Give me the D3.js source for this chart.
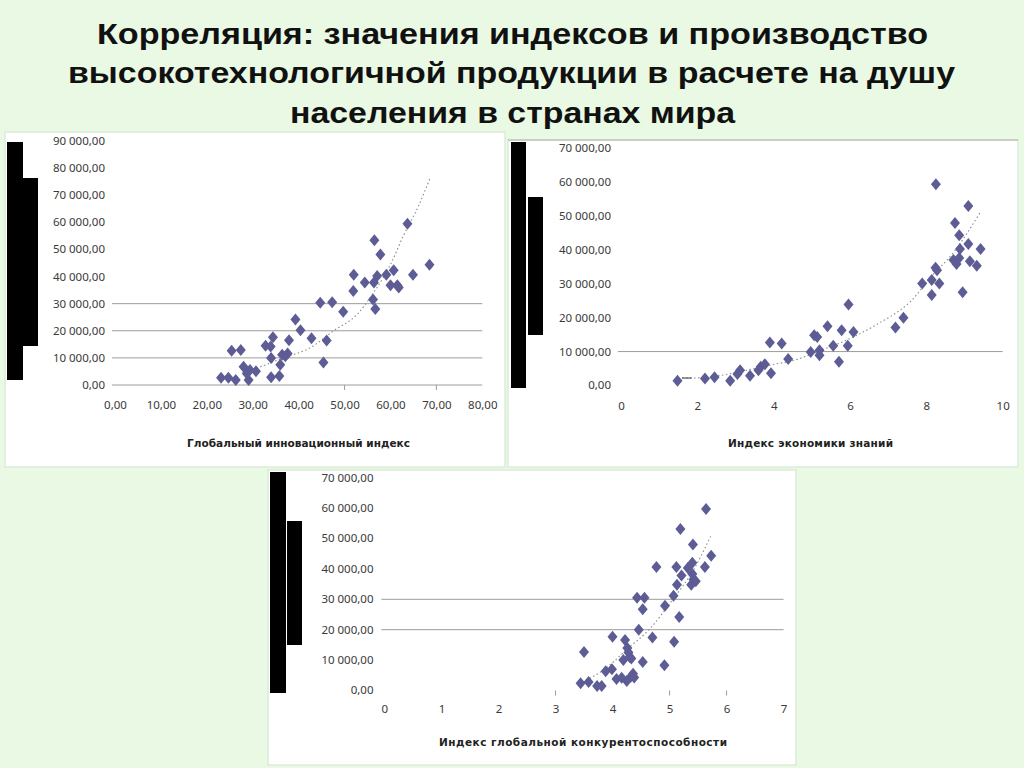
<!DOCTYPE html>
<html><head><meta charset="utf-8">
<script src="https://cdn.jsdelivr.net/npm/d3@7"></script>
<style>html,body{margin:0;padding:0;background:#e9f9e4;}svg{display:block;}</style>
</head><body>
<svg id="c" width="1024" height="768"></svg>
<script>
// ---------- DATA ----------
const titleLines = [
  "Корреляция: значения индексов и производство",
  "высокотехнологичной продукции в расчете на душу",
  "населения в странах мира"
];
const axisTitles = ["Глобальный инновационный индекс", "Индекс экономики знаний", "Индекс глобальной конкурентоспособности"];

// Panel 1: Global Innovation Index vs high-tech production per capita (thousands)
const gii = [23.1,24.7,26.3,25.4,27.4,28.0,28.7,29.1,29.4,30.7,32.8,33.9,34.0,34.0,34.4,35.8,36.0,36.4,37.1,37.6,37.9,39.3,40.4,42.8,44.7,45.4,46.1,47.3,49.7,51.9,52.0,54.4,56.2,56.5,56.7,56.4,57.1,57.8,59.1,60.0,60.7,61.5,61.8,63.7,64.9,68.5];
const giiProd = [2.7,2.7,1.8,12.6,12.9,6.7,4.2,1.8,5.5,5.1,14.5,14.2,2.9,10.0,17.6,3.3,7.5,11.2,10.6,11.6,16.5,24.2,20.2,17.2,30.3,8.3,16.4,30.5,27.0,34.7,40.7,37.8,31.5,53.4,28.0,37.8,40.2,48.1,40.7,36.8,42.3,36.8,36.0,59.5,40.7,44.4];
const giiTrendX = [30.0,36.7,42.5,47.6,52.7,56.3,60.3,62.8,66.1,68.7];
const giiTrendY = [5.6,10.0,13.7,20.0,26.0,34.0,45.5,55.0,66.0,76.7];

// Panel 2: Knowledge Economy Index
const kei = [1.48,2.20,2.45,2.86,3.05,3.12,3.38,3.60,3.66,3.77,3.93,3.90,4.21,4.38,4.97,5.06,5.14,5.20,5.20,5.41,5.56,5.71,5.78,5.94,5.96,6.09,7.19,7.40,7.89,8.14,8.14,8.24,8.28,8.34,8.25,8.75,8.86,9.10,8.88,9.10,9.42,8.71,8.79,8.86,9.14,9.32,8.95];
const keiProd = [1.4,2.1,2.4,1.4,3.4,4.5,2.9,4.5,5.5,6.3,3.6,12.7,12.4,7.8,9.9,14.8,14.3,10.4,8.9,17.5,11.7,7.0,16.3,11.7,23.9,15.8,17.1,20.0,30.1,31.1,26.7,34.7,34.0,30.1,59.3,47.9,44.3,52.9,40.2,41.7,40.2,37.0,35.8,37.6,36.6,35.3,27.5];
const keiTrendX = [1.6,1.85,3.9,4.7,5.13,6.09,6.7,7.57,8.27,8.53,9.41];
const keiTrendY = [2.2,2.2,6.0,8.0,9.9,14.3,18.0,24.6,33.9,36.8,51.0];

// Panel 3: Global Competitiveness Index
const gci = [3.44,3.50,3.58,3.73,3.81,3.88,3.99,4.00,4.07,4.16,4.19,4.22,4.25,4.26,4.28,4.30,4.32,4.36,4.38,4.33,4.43,4.46,4.53,4.53,4.56,4.70,4.77,4.91,4.92,5.07,5.08,5.12,5.13,5.17,5.19,5.21,5.32,5.40,5.41,5.38,5.42,5.46,5.40,5.62,5.64,5.73];
const gciProd = [2.4,12.7,2.8,1.5,1.5,6.3,7.0,17.7,3.8,4.2,10.0,16.6,3.1,14.0,12.5,11.0,4.5,5.5,4.3,10.5,30.5,20.0,9.4,26.7,30.5,17.4,40.6,8.3,27.9,31.2,16.0,40.6,34.8,24.2,53.1,37.8,40.3,42.0,48.0,34.8,36.5,35.9,38.3,40.6,59.7,44.3];
const gciTrendX = [3.6,3.84,4.25,4.67,5.03,5.44,5.72];
const gciTrendY = [4.0,6.7,13.5,20.6,29.3,40.3,50.7];

const yTicks1 = [0,10000,20000,30000,40000,50000,60000,70000,80000,90000];
const yTicks23 = [0,10000,20000,30000,40000,50000,60000,70000];
const xTicks1 = [0,10,20,30,40,50,60,70,80];
const xTicks2 = [0,2,4,6,8,10];
const xTicks3 = [0,1,2,3,4,5,6,7];
const grid1 = [0,10000,20000,30000];
const grid2 = [10000];
const grid3 = [20000,30000];
const tickMarks1 = [50,70];
const tickMarks3 = [3,5,6];

// ---------- LAYOUT ----------
const svg = d3.select("#c");
const loc = d3.formatLocale({decimal: ",", thousands: "\u00a0", grouping: [3], currency: ["", ""]});
const fmtY = loc.format(",.2f");
const fmt2 = loc.format(".2f");
const fmtI = d3.format("d");

svg.append("rect").attr("width",1024).attr("height",768).attr("fill","#e9f9e4");

// title
const titleLayout = [{y:34, x0:97, x1:928},{y:73, x0:68, x1:955},{y:113, x0:290, x1:735}];
svg.selectAll("text.title").data(titleLines).join("text")
  .attr("class","title")
  .attr("x", (d,i)=>titleLayout[i].x0)
  .attr("y", (d,i)=>titleLayout[i].y)
  .attr("dy","0.35em")
  .attr("textLength",(d,i)=>titleLayout[i].x1-titleLayout[i].x0)
  .attr("lengthAdjust","spacingAndGlyphs")
  .attr("font-family","Liberation Sans, Arial, sans-serif")
  .attr("font-weight","bold").attr("font-size",29).attr("fill","#111")
  .text(d=>d);

const diamond = {draw(ctx){ const w=5, h=6; ctx.moveTo(0,-h); ctx.lineTo(w,0); ctx.lineTo(0,h); ctx.lineTo(-w,0); ctx.closePath(); }};
const diamondPath = d3.symbol().type(diamond)();

function drawPanel(p){
  const g = svg.append("g");
  g.append("rect").attr("x",p.box[0]).attr("y",p.box[1]).attr("width",p.box[2]).attr("height",p.box[3])
    .attr("fill","#fff").attr("stroke","#dcecd8").attr("stroke-width",1.5);
  if (p.topLine) g.append("line").attr("x1",p.box[0]).attr("x2",p.box[0]+p.box[2]).attr("y1",p.box[1]).attr("y2",p.box[1])
    .attr("stroke","#a8b0a8").attr("stroke-width",1);
  const x = d3.scaleLinear().domain(p.xDomain).range(p.xRange);
  const y = d3.scaleLinear().domain(p.yDomain).range(p.yRange);

  g.selectAll("line.grid").data(p.grid).join("line").attr("class","grid")
    .attr("x1", x(p.xDomain[0])-3).attr("x2", x(p.xDomain[1]))
    .attr("y1", d=>y(d)).attr("y2", d=>y(d))
    .attr("stroke","#9c9c9c").attr("stroke-width",1);
  g.selectAll("line.tm").data(p.tickMarks).join("line").attr("class","tm")
    .attr("x1", d=>x(d)).attr("x2", d=>x(d))
    .attr("y1", y(0)).attr("y2", y(0)+5)
    .attr("stroke","#9c9c9c").attr("stroke-width",1);

  const ya = g.append("g").attr("transform",`translate(${p.yLabelRight},0)`)
    .call(d3.axisLeft(y).tickValues(p.yTicks).tickFormat(fmtY).tickSize(0).tickPadding(0));
  ya.select(".domain").remove();
  ya.selectAll("text").attr("font-family","Noto Sans, sans-serif").attr("font-size",11.5).attr("fill","#3a3a3a").attr("dy","0.3em");

  const xa = g.append("g").attr("transform",`translate(0,${p.xLabelY-6})`)
    .call(d3.axisBottom(x).tickValues(p.xTicks).tickFormat(p.xFmt).tickSize(0).tickPadding(0));
  xa.select(".domain").remove();
  xa.selectAll("text").attr("font-family","Noto Sans, sans-serif").attr("font-size",11.5).attr("fill","#3a3a3a");

  g.append("text").attr("x",p.titleX[0]).attr("y",p.titleY).attr("dy","0.35em")
    .attr("textLength",p.titleX[1]-p.titleX[0]).attr("lengthAdjust","spacing")
    .attr("font-family","DejaVu Sans, sans-serif").attr("font-weight","bold").attr("font-size",10.5).attr("fill","#222")
    .text(p.title);

  g.selectAll("rect.bar").data(p.bars).join("rect").attr("class","bar")
    .attr("x",d=>d[0]).attr("y",d=>d[1]).attr("width",d=>d[2]).attr("height",d=>d[3]).attr("fill","#000");

  const trend = p.trendX.map((v,i)=>[v,p.trendY[i]*1000]);
  g.append("path").datum(trend)
    .attr("d", d3.line().x(d=>x(d[0])).y(d=>y(d[1])).curve(d3.curveMonotoneX))
    .attr("fill","none").attr("stroke","#8a8a8a").attr("stroke-width",1.1).attr("stroke-dasharray","1.5,2.5");
  if (p.trendLead) g.append("path").datum(trend.slice(0,2))
    .attr("d", d3.line().x(d=>x(d[0])).y(d=>y(d[1])))
    .attr("stroke","#333").attr("stroke-width",1);

  const pts = p.xs.map((v,i)=>[v,p.ys[i]*1000]);
  g.selectAll("path.pt").data(pts).join("path").attr("class","pt")
    .attr("transform", d=>`translate(${x(d[0])},${y(d[1])})`)
    .attr("d", diamondPath).attr("fill","#5d5c95");
}

drawPanel({
  box:[5,132,500,335], xDomain:[0,80], xRange:[115,482.3], yDomain:[0,90000], yRange:[385,141],
  grid:grid1, tickMarks:tickMarks1, yTicks:yTicks1, xTicks:xTicks1, xFmt:fmt2,
  yLabelRight:105, xLabelY:407, title:axisTitles[0], titleX:[187,410], titleY:443,
  bars:[[7,142,16,238],[23,178,15,168]],
  trendX:giiTrendX, trendY:giiTrendY, xs:gii, ys:giiProd
});
drawPanel({
  box:[508,140,510,327], topLine:true, xDomain:[0,10], xRange:[621,1002.7], yDomain:[0,70000], yRange:[385.5,148],
  grid:grid2, tickMarks:[], yTicks:yTicks23, xTicks:xTicks2, xFmt:fmtI,
  yLabelRight:611, xLabelY:408, title:axisTitles[1], titleX:[728,893], titleY:443,
  bars:[[511,142,15,246],[528,197,15,138]],
  trendX:keiTrendX, trendY:keiTrendY, xs:kei, ys:keiProd, trendLead:true
});
drawPanel({
  box:[268,470,528,295], xDomain:[0,7], xRange:[384.4,783.6], yDomain:[0,70000], yRange:[690.5,477.7],
  grid:grid3, tickMarks:tickMarks3, yTicks:yTicks23, xTicks:xTicks3, xFmt:fmtI,
  yLabelRight:373.5, xLabelY:711, title:axisTitles[2], titleX:[439,727], titleY:742,
  bars:[[270,472,16,221],[287,521,15,124]],
  trendX:gciTrendX, trendY:gciTrendY, xs:gci, ys:gciProd
});
</script>
</body></html>
